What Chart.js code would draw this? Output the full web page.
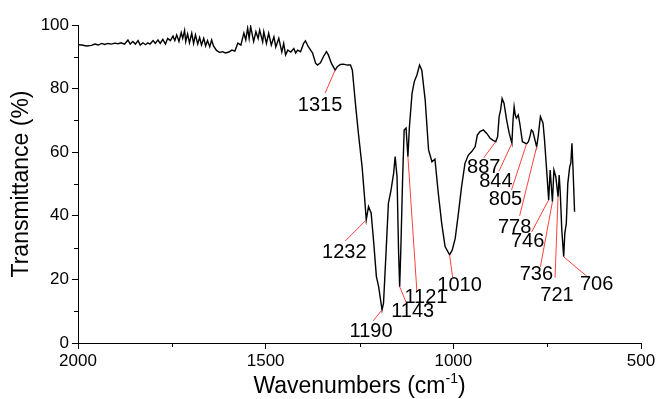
<!DOCTYPE html>
<html>
<head>
<meta charset="utf-8">
<title>FTIR spectrum</title>
<script src="https://cdn.jsdelivr.net/npm/chart.js@4.4.1/dist/chart.umd.min.js"></script>
<style>
  html, body { margin: 0; padding: 0; background: #fff; }
  #wrap { width: 657px; height: 399px; }
</style>
</head>
<body>
<div id="wrap"><canvas id="ftir" width="657" height="399"></canvas></div>
<script>
// spectrum, high to low wavenumber
const wavenumbers = [
  2000, 1990, 1977, 1964, 1955, 1946, 1937, 1929, 1920, 1911, 1902, 1893, 1885, 1876,
  1867, 1861, 1854, 1847, 1840, 1834, 1827, 1820, 1814, 1808, 1800, 1794, 1787, 1781,
  1774, 1767, 1761, 1754, 1747, 1742, 1737, 1731, 1725, 1721, 1716, 1713, 1708, 1703,
  1697, 1692, 1687, 1681, 1676, 1671, 1665, 1660, 1655, 1649, 1644, 1639,
  1631, 1623, 1615, 1607, 1598, 1590, 1582, 1574, 1566, 1558, 1553, 1548, 1544, 1540,
  1532, 1526, 1520, 1516, 1508, 1505, 1498, 1492, 1485, 1478, 1473, 1465, 1457, 1452,
  1447, 1441, 1433, 1425, 1420, 1415, 1407, 1399, 1394, 1386, 1375, 1367, 1362, 1354,
  1346, 1338, 1333, 1325, 1315, 1309, 1301, 1293, 1282, 1274, 1269, 1261, 1253, 1243,
  1236, 1232, 1226, 1219, 1212, 1205, 1199, 1190, 1186, 1179, 1173, 1166, 1159, 1155,
  1150, 1146, 1143, 1140, 1135, 1131, 1126, 1121, 1117, 1110, 1104, 1097, 1090, 1084,
  1075, 1066, 1057, 1049, 1040, 1031, 1022, 1010, 1003, 995, 987, 978, 969, 960,
  951, 942, 936, 929, 920, 911, 902, 895, 887, 882, 878, 874, 870, 865, 858, 851,
  844, 841, 838, 835, 832, 827, 823, 816, 811, 805, 800, 796, 792, 788, 778, 774,
  768, 761, 757, 752, 746, 742, 736, 732, 727, 721, 718, 715, 711, 706, 703, 699,
  695, 690, 687, 684, 681, 677
];
const transmittance = [
  93.8, 93.7, 93.4, 93.6, 94.0, 93.7, 94.2, 93.9, 94.2, 94.0, 94.3, 94.1, 94.4, 94.0,
  95.3, 94.0, 94.8, 94.0, 95.1, 93.7, 94.4, 93.8, 94.4, 94.0, 95.1, 94.2, 95.3, 94.2,
  95.5, 94.0, 95.8, 95.1, 96.5, 95.1, 96.9, 94.8, 97.6, 95.8, 98.3, 94.8, 97.2, 94.4,
  97.4, 94.2, 96.9, 94.0, 96.1, 93.7, 95.8, 93.4, 95.1, 93.2, 95.3, 93.4,
  92.0, 91.4, 91.6, 91.2, 91.5, 92.1, 91.8, 94.3, 93.7, 97.5, 95.3, 99.0, 95.8, 99.5,
  94.8, 97.9, 95.8, 98.4, 94.7, 97.9, 94.2, 97.4, 93.7, 96.3, 93.1, 95.8, 91.5, 94.2,
  90.6, 92.1, 91.5, 92.6, 91.2, 92.1, 91.6, 94.2, 95.0, 93.1, 91.2, 88.0, 87.4, 88.1,
  90.1, 91.6, 90.6, 88.0, 85.8, 86.9, 87.6, 87.7, 87.4, 87.4, 85.8, 75.5, 66.0, 55.3,
  45.0, 38.7, 42.9, 40.9, 31.4, 20.9, 17.7, 10.4, 12.5, 29.2, 43.9, 48.1, 53.4, 58.6,
  52.3, 29.2, 17.7, 29.0, 52.3, 67.0, 67.6, 58.6, 68.0, 78.5, 82.2, 84.3, 87.4, 85.8,
  76.4, 60.7, 57.0, 57.8, 47.0, 37.6, 30.3, 27.7, 29.2, 32.9, 40.3, 49.2, 56.5, 59.1,
  60.2, 61.7, 65.4, 66.5, 67.0, 65.9, 64.4, 63.8, 63.3, 64.9, 71.2, 73.3, 76.9, 75.4, 70.1, 65.9,
  62.8, 70.0, 74.3, 71.7, 70.7, 71.7, 69.1, 63.3, 63.0, 62.6, 63.3, 64.9, 67.0, 66.5, 61.7, 64.9,
  71.2, 69.1, 63.8, 55.4, 45.0, 54.4, 44.4, 54.4, 52.3, 46.0, 52.8, 47.0, 35.5, 27.1, 34.5, 37.6,
  50.2, 55.4, 56.5, 62.8, 54.4, 41.3
];

// marked band positions (cm-1)
const peakPositions = [1315, 1232, 1190, 1143, 1121, 1010, 887, 844, 805, 778, 746, 736, 721, 706];

// leader end and label centre, offset from the band in px
const leaderEnds = [
  [-10, 23], [-21, 21], [-9, 11], [7, 17], [9, 135], [3, 22], [-12, 16],
  [-13, 28], [-15, 46], [-17, 69], [-17, 32], [-12, 65], [-3, 81], [25, 21]
];
const labelOffsets = [
  [-15, 35], [-22, 33], [-11, 22], [13, 25], [18, 141], [10, 31], [-12, 26],
  [-16, 38], [-21, 56], [-22, 81], [-21, 42], [-16, 73], [-1, 99], [33, 28]
];

const xMinorTicks = [1750, 1250, 750];
const yMinorTicks = [10, 30, 50, 70, 90];

const FONT = '"Liberation Sans", Arial, Helvetica, sans-serif';

const peakMarks = {
  id: 'peakMarks',
  afterDatasetsDraw(chart) {
    const { ctx, scales: { x, y } } = chart;
    ctx.save();
    ctx.font = '20px ' + FONT;
    ctx.textAlign = 'center';
    ctx.textBaseline = 'middle';
    peakPositions.forEach((wn, i) => {
      const t = transmittance[wavenumbers.indexOf(wn)];
      const px = x.getPixelForValue(wn);
      const py = y.getPixelForValue(t);
      ctx.strokeStyle = '#ff4040';
      ctx.lineWidth = 1;
      ctx.beginPath();
      ctx.moveTo(px, py);
      ctx.lineTo(px + leaderEnds[i][0], py + leaderEnds[i][1]);
      ctx.stroke();
      ctx.fillStyle = '#000';
      ctx.fillText(String(wn), px + labelOffsets[i][0], py + labelOffsets[i][1]);
    });
    ctx.restore();
  }
};

// short minor ticks and the x title with its superscript
const axisExtras = {
  id: 'axisExtras',
  afterDraw(chart) {
    const { ctx, chartArea, scales: { x, y } } = chart;
    ctx.save();
    ctx.strokeStyle = '#000';
    ctx.lineWidth = 1;
    ctx.beginPath();
    xMinorTicks.forEach(v => {
      const p = Math.round(x.getPixelForValue(v)) + 0.5;
      ctx.moveTo(p, chartArea.bottom);
      ctx.lineTo(p, chartArea.bottom + 4);
    });
    yMinorTicks.forEach(v => {
      const p = Math.round(y.getPixelForValue(v)) + 0.5;
      ctx.moveTo(chartArea.left, p);
      ctx.lineTo(chartArea.left - 4, p);
    });
    ctx.stroke();

    const main = 'Wavenumbers (cm';
    const sup = '-1';
    const close = ')';
    ctx.fillStyle = '#000';
    ctx.textBaseline = 'alphabetic';
    ctx.textAlign = 'left';
    ctx.font = '23px ' + FONT;
    const w1 = ctx.measureText(main).width;
    const w3 = ctx.measureText(close).width;
    ctx.font = '14px ' + FONT;
    const w2 = ctx.measureText(sup).width;
    const cx = (chartArea.left + chartArea.right) / 2;
    let sx = cx - (w1 + w2 + w3) / 2;
    const base = 393;
    ctx.font = '23px ' + FONT;
    ctx.fillText(main, sx, base);
    ctx.font = '14px ' + FONT;
    ctx.fillText(sup, sx + w1, base - 10);
    ctx.font = '23px ' + FONT;
    ctx.fillText(close, sx + w1 + w2, base);
    ctx.restore();
  }
};

new Chart(document.getElementById('ftir'), {
  type: 'line',
  data: {
    datasets: [{
      data: wavenumbers.map((w, i) => ({ x: w, y: transmittance[i] })),
      borderColor: '#000',
      borderWidth: 1.4,
      pointRadius: 0,
      tension: 0,
      fill: false
    }]
  },
  options: {
    responsive: false,
    animation: false,
    devicePixelRatio: 1,
    layout: { padding: { top: 25, right: 16, bottom: 0, left: 0 } },
    plugins: {
      legend: { display: false },
      tooltip: { enabled: false }
    },
    scales: {
      x: {
        type: 'linear',
        reverse: true,
        min: 500,
        max: 2000,
        ticks: {
          stepSize: 500,
          color: '#000',
          padding: 2,
          maxRotation: 0,
          font: { family: FONT, size: 17 },
          callback: v => String(v)
        },
        grid: { drawOnChartArea: false, drawTicks: true, tickLength: 6, color: '#000' },
        border: { color: '#000', width: 1 },
        afterFit(scale) {
          scale.height = 56;
          scale.paddingLeft = 0;
          scale.paddingRight = 0;
        }
      },
      y: {
        min: 0,
        max: 100,
        ticks: {
          stepSize: 20,
          color: '#000',
          padding: 3,
          font: { family: FONT, size: 17 }
        },
        grid: { drawOnChartArea: false, drawTicks: true, tickLength: 6, color: '#000' },
        border: { color: '#000', width: 1 },
        title: {
          display: true,
          text: 'Transmittance (%)',
          color: '#000',
          font: { family: FONT, size: 23 },
          padding: { top: 8, bottom: 0 }
        },
        afterFit(scale) {
          scale.width = 78;
          scale.paddingTop = 0;
          scale.paddingBottom = 0;
        }
      }
    }
  },
  plugins: [peakMarks, axisExtras]
});
</script>
</body>
</html>
